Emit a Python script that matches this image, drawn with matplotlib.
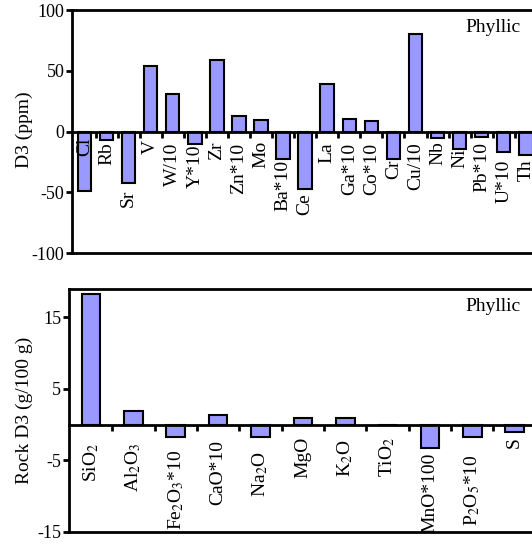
import matplotlib
matplotlib.use('Agg')
import matplotlib.pyplot as plt
import numpy as np

plt.rcParams['font.family'] = ['Liberation Serif', 'DejaVu Serif']
plt.rcParams['mathtext.fontset'] = 'stix'
plt.rcParams['axes.unicode_minus'] = False

# ---- data ----
trace_labels = ['Cl', 'Rb', 'Sr', 'V', 'W/10', 'Y*10', 'Zr', 'Zn*10', 'Mo', 'Ba*10', 'Ce',
                'La', 'Ga*10', 'Co*10', 'Cr', 'Cu/10', 'Nb', 'Ni', 'Pb*10', 'U*10', 'Th']
trace_values = [-49, -7, -42, 54, 31, -10, 59, 13, 9.5, -23, -47,
                39, 10.5, 8.3, -23, 80, -5, -14, -4.5, -17, -19]
trace_yticks = [-100, -50, 0, 50, 100]

major_labels = [r'SiO$_2$', r'Al$_2$O$_3$', r'Fe$_2$O$_3$*10', 'CaO*10', r'Na$_2$O', 'MgO',
                r'K$_2$O', r'TiO$_2$', 'MnO*100', r'P$_2$O$_5$*10', 'S']
major_values = [18.3, 1.9, -1.7, 1.3, -1.7, 0.9, 0.9, 0, -3.3, -1.7, -1.0]
major_yticks = [-15, -5, 5, 15]

# ---- layout (label placement, data units) ----
trace_label_top = [-5, -9, -48, -7, -9, -11, -8, -9, -8, -23, -51,
                   -9, -9, -9, -23, -9, -8, -14, -9, -23, -23]
major_label_top = [-2.5, -2.5, -3.5, -2.1, -3.75, -1.7, -2.1, -1.7, -3.9, -4.2, -1.7]

W, H = 532, 548
fig = plt.figure(figsize=(W / 100, H / 100), dpi=100)

BAR_COLOR = '#9999FF'


def make_panel(rect, labels, values, label_tops, width, xlim, ylim, yticks, ylabel, ylabel_y):
    ax = fig.add_axes(rect)
    x = np.arange(len(values))
    ax.bar(x, values, width=width, color=BAR_COLOR, edgecolor='black', linewidth=1.5, zorder=2)
    for xi, lab, yt in zip(x, labels, label_tops):
        ax.text(xi, yt, lab, rotation=90, ha='center', va='top', fontsize=14, zorder=4)
    ax.set_xlim(*xlim)
    ax.set_ylim(*ylim)
    ax.set_yticks(yticks)
    ax.set_yticklabels([str(t) for t in yticks])
    ax.tick_params(axis='y', direction='out', length=4.5, width=2, labelsize=13, pad=1)
    ax.set_xticks(np.arange(len(values) - 1) + 0.5)
    ax.tick_params(axis='x', direction='out', length=4.5, width=2, labelbottom=False)
    ax.spines['bottom'].set_position(('data', 0))
    ax.spines['right'].set_visible(False)
    for s in ['left', 'top', 'bottom']:
        ax.spines[s].set_linewidth(2)
    ax.spines['bottom'].set_zorder(3)
    ax.plot([0, 1], [0, 0], transform=ax.transAxes, color='black', lw=2, clip_on=False)
    ax.text(0.975, 0.965, 'Phyllic', transform=ax.transAxes, ha='right', va='top', fontsize=14)
    fig.text(24 / W, 1 - ylabel_y / H, ylabel, rotation=90, ha='center', va='center', fontsize=14)
    return ax


# top panel: axes px x 72..532, y 10..253
top_rect = [72 / W, 1 - 253 / H, (W - 72) / W, 243 / H]
make_panel(top_rect, trace_labels, trace_values, trace_label_top, 0.61,
           (-0.566, 20.28), (-100, 100), trace_yticks, 'D3 (ppm)', 130)

# bottom panel: axes px x 69..532, y 289..532
bot_rect = [69 / W, 1 - 532 / H, (W - 69) / W, 243 / H]
make_panel(bot_rect, major_labels, major_values, major_label_top, 0.44,
           (-0.52, 10.41), (-15, 18.94), major_yticks, 'Rock D3 (g/100 g)', 410)

fig.savefig('out.png', dpi=100)
